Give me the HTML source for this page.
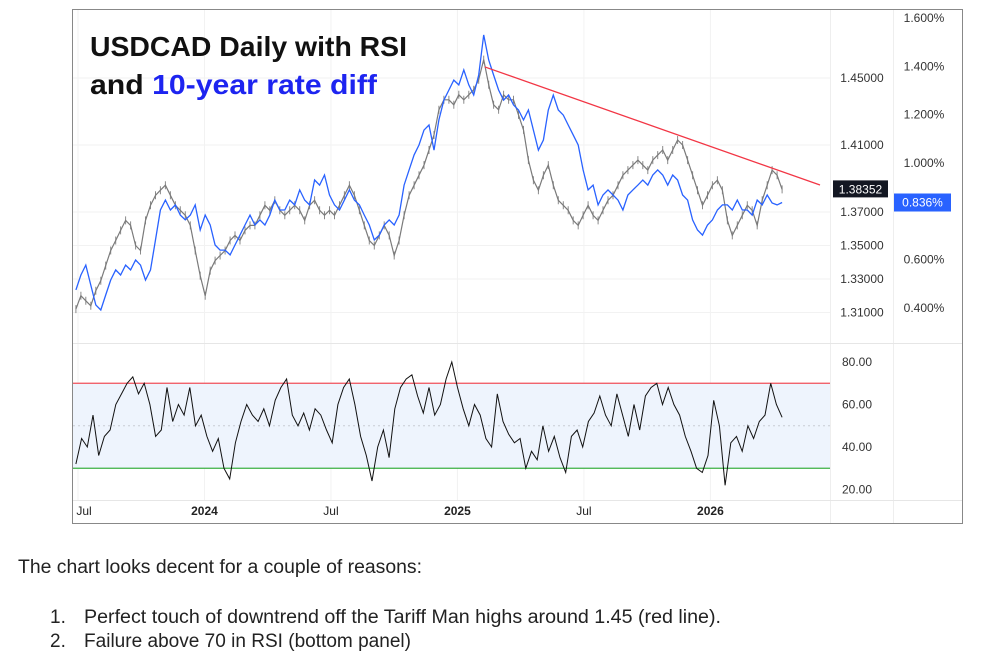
<!DOCTYPE html>
<html><head><meta charset="utf-8"><style>
html,body{margin:0;padding:0;background:#fff;width:983px;height:663px;overflow:hidden}
svg{display:block;font-family:"Liberation Sans",sans-serif}
</style></head><body>
<svg id="c" width="983" height="663" viewBox="0 0 983 663" xmlns="http://www.w3.org/2000/svg">
<rect x="72.5" y="9.5" width="890" height="514" fill="#fff" stroke="#888"/>
<g id="grid"></g>
<line x1="830.5" y1="10" x2="830.5" y2="523" stroke="#eee"/>
<line x1="893.5" y1="10" x2="893.5" y2="523" stroke="#eee"/>
<line x1="73" y1="343.5" x2="962" y2="343.5" stroke="#e6e6e6"/>
<line x1="73" y1="500.5" x2="962" y2="500.5" stroke="#e6e6e6"/>
<g id="rsiPane"></g>
<g id="pricePane"></g>
<g id="axes"></g>
<text x="90" y="56" font-size="28" font-weight="bold" fill="#111" textLength="317" lengthAdjust="spacingAndGlyphs">USDCAD Daily with RSI</text>
<text x="90" y="94" font-size="28" font-weight="bold" fill="#111" textLength="287" lengthAdjust="spacingAndGlyphs">and <tspan fill="#1d24f0">10-year rate diff</tspan></text>
<text x="18" y="573" font-size="19" fill="#222" textLength="404" lengthAdjust="spacingAndGlyphs">The chart looks decent for a couple of reasons:</text>
<text x="50" y="623" font-size="19" fill="#222">1.</text>
<text x="84" y="623" font-size="19" fill="#222" textLength="637" lengthAdjust="spacingAndGlyphs">Perfect touch of downtrend off the Tariff Man highs around 1.45 (red line).</text>
<text x="50" y="647" font-size="19" fill="#222">2.</text>
<text x="84" y="647" font-size="19" fill="#222" textLength="327" lengthAdjust="spacingAndGlyphs">Failure above 70 in RSI (bottom panel)</text>
</svg>
<script>
const priceValues=[1.312,1.320,1.317,1.314,1.323,1.329,1.338,1.347,1.353,1.359,1.365,1.362,1.350,1.347,1.365,1.374,1.380,1.383,1.386,1.380,1.374,1.371,1.368,1.362,1.347,1.332,1.320,1.335,1.341,1.344,1.347,1.353,1.356,1.353,1.359,1.362,1.362,1.368,1.374,1.371,1.377,1.371,1.368,1.371,1.374,1.371,1.365,1.374,1.377,1.371,1.368,1.371,1.368,1.374,1.380,1.386,1.380,1.371,1.362,1.353,1.350,1.356,1.362,1.356,1.344,1.353,1.368,1.380,1.386,1.392,1.398,1.407,1.416,1.431,1.437,1.437,1.434,1.440,1.437,1.440,1.443,1.449,1.461,1.446,1.434,1.431,1.440,1.437,1.437,1.428,1.419,1.401,1.389,1.383,1.392,1.398,1.386,1.377,1.374,1.371,1.365,1.362,1.368,1.374,1.368,1.365,1.371,1.377,1.380,1.386,1.392,1.395,1.398,1.401,1.398,1.395,1.401,1.404,1.407,1.401,1.407,1.413,1.410,1.401,1.392,1.383,1.374,1.380,1.386,1.389,1.383,1.365,1.356,1.362,1.368,1.374,1.371,1.362,1.377,1.386,1.395,1.392,1.3835];
const rateDiffValues=[0.474,0.536,0.577,0.494,0.412,0.391,0.453,0.515,0.557,0.536,0.577,0.557,0.598,0.577,0.515,0.557,0.681,0.805,0.846,0.805,0.826,0.784,0.764,0.784,0.826,0.722,0.784,0.743,0.660,0.639,0.639,0.619,0.660,0.701,0.743,0.784,0.743,0.764,0.743,0.784,0.846,0.805,0.805,0.846,0.826,0.888,0.846,0.826,0.929,0.908,0.950,0.867,0.826,0.805,0.846,0.888,0.846,0.826,0.784,0.743,0.681,0.701,0.743,0.764,0.743,0.784,0.908,0.971,1.033,1.074,1.136,1.157,1.053,1.178,1.260,1.302,1.343,1.323,1.385,1.323,1.281,1.364,1.530,1.426,1.364,1.302,1.260,1.281,1.240,1.219,1.178,1.219,1.136,1.053,1.095,1.219,1.281,1.219,1.198,1.157,1.116,1.074,0.971,0.888,0.908,0.826,0.867,0.888,0.867,0.846,0.805,0.867,0.888,0.908,0.929,0.908,0.950,0.971,0.950,0.908,0.950,0.929,0.867,0.846,0.764,0.722,0.701,0.743,0.764,0.805,0.826,0.826,0.805,0.846,0.805,0.805,0.784,0.846,0.826,0.867,0.834,0.826,0.836];
const rsiValues=[32,44,40,55,36,45,48,60,65,70,73,65,70,60,45,48,68,52,60,55,68,50,55,45,38,44,30,25,42,52,60,55,52,58,50,62,68,72,55,50,56,48,58,55,48,42,60,68,72,60,45,36,24,40,48,35,58,68,72,74,64,56,68,55,60,72,80,68,58,50,60,55,44,40,65,52,46,42,44,30,38,34,50,38,45,35,28,45,48,40,52,56,64,55,50,65,55,45,60,48,64,68,70,60,68,60,55,45,38,30,28,36,62,50,22,42,45,38,50,44,52,55,70,60,54];
const trendMonths=[19.3,35.2];
const trendPrices=[1.4566,1.3861];
const priceTicks=[1.45,1.41,1.37,1.35,1.33,1.31];
const pctTicks=[1.6,1.4,1.2,1.0,0.6,0.4];
const rsiTicks=[80,60,40,20];
const timeLabels=["Jul","2024","Jul","2025","Jul","2026"];
const timeMonths=[0,6,12,18,24,30];
const dataStartMonth=-0.1, dataEndMonth=33.4;

const NS="http://www.w3.org/2000/svg";
const xM=m=>78+m*21.08;
const xI=(i,n)=>xM(dataStartMonth+i*(dataEndMonth-dataStartMonth)/(n-1));
const yP=v=>78+(1.45-v)*1675;
const yPct=v=>18+(1.6-v)*241.5;
const yR=v=>362+(80-v)*2.125;
function mk(tag,attrs,parent,txt){const e=document.createElementNS(NS,tag);for(const k in attrs)e.setAttribute(k,attrs[k]);if(txt!==undefined)e.textContent=txt;parent.appendChild(e);return e;}
const grid=document.getElementById('grid'),pp=document.getElementById('pricePane'),rp=document.getElementById('rsiPane'),ax=document.getElementById('axes');

timeMonths.forEach(m=>{const g=mk('line',{x1:xM(m),y1:10,x2:xM(m),y2:500,stroke:'#f2f2f2'},grid);

});
priceTicks.forEach(v=>{const g=mk('line',{x1:73,y1:yP(v),x2:830,y2:yP(v),stroke:'#f2f2f2'},grid);

});

let e=mk('rect',{x:73,y:yR(70),width:757,height:yR(30)-yR(70),fill:'#eef4fd'},rp);


e=mk('line',{x1:73,y1:yR(50),x2:830,y2:yR(50),stroke:'#c8ccd4','stroke-dasharray':'2 3'},rp);


e=mk('line',{x1:73,y1:yR(70),x2:830,y2:yR(70),stroke:'#f0505a','stroke-width':1.3},rp);


e=mk('line',{x1:73,y1:yR(30),x2:830,y2:yR(30),stroke:'#3cb043','stroke-width':1.3},rp);


e=mk('polyline',{points:rsiValues.map((v,i)=>xI(i,rsiValues.length).toFixed(1)+','+yR(v).toFixed(1)).join(' '),fill:'none',stroke:'#111','stroke-width':1},rp);



let wick='';
priceValues.forEach((v,i)=>{const x=xI(i,priceValues.length).toFixed(1);const y=yP(v);wick+='M'+x+','+(y-4).toFixed(1)+'V'+(y+4).toFixed(1);});
e=mk('path',{d:wick,stroke:'#8a8a8a','stroke-width':1,fill:'none'},pp);


e=mk('polyline',{points:priceValues.map((v,i)=>xI(i,priceValues.length).toFixed(1)+','+yP(v).toFixed(1)).join(' '),fill:'none',stroke:'#7a7a7a','stroke-width':1.2},pp);


e=mk('polyline',{points:rateDiffValues.map((v,i)=>xI(i,rateDiffValues.length).toFixed(1)+','+yPct(v).toFixed(1)).join(' '),fill:'none',stroke:'#2962ff','stroke-width':1.3},pp);


e=mk('line',{x1:xM(trendMonths[0]),y1:yP(trendPrices[0]),x2:xM(trendMonths[1]),y2:yP(trendPrices[1]),stroke:'#f23645','stroke-width':1.3},pp);



priceTicks.forEach(v=>{const t=mk('text',{x:862,y:yP(v)+4,'font-size':12,fill:'#333','text-anchor':'middle'},ax,v.toFixed(5));

});
pctTicks.forEach(v=>{const t=mk('text',{x:924,y:yPct(v)+4,'font-size':12,fill:'#333','text-anchor':'middle'},ax,v.toFixed(3)+'%');

});
rsiTicks.forEach(v=>{const t=mk('text',{x:857,y:yR(v)+4,'font-size':12,fill:'#333','text-anchor':'middle'},ax,v.toFixed(2));

});
timeLabels.forEach((s,i)=>{const t=mk('text',{x:xM(timeMonths[i])+(i===0?6:0),y:515,'font-size':12,fill:'#222','text-anchor':'middle','font-weight':/^\d/.test(s)?'bold':'normal'},ax,s);

});
const lastP=priceValues[priceValues.length-1], lastR=rateDiffValues[rateDiffValues.length-1];
e=mk('rect',{x:833,y:yP(lastP)-9,width:55,height:17,fill:'#131722'},ax);


e=mk('text',{x:860.5,y:yP(lastP)+4,'font-size':12,fill:'#fff','text-anchor':'middle'},ax,lastP.toFixed(5).replace(/0$/,'2'));


e=mk('rect',{x:894,y:yPct(lastR)-9,width:57,height:18,fill:'#2962ff'},ax);


e=mk('text',{x:922.5,y:yPct(lastR)+4,'font-size':12,fill:'#fff','text-anchor':'middle'},ax,lastR.toFixed(3)+'%');


</script>
</body></html>
